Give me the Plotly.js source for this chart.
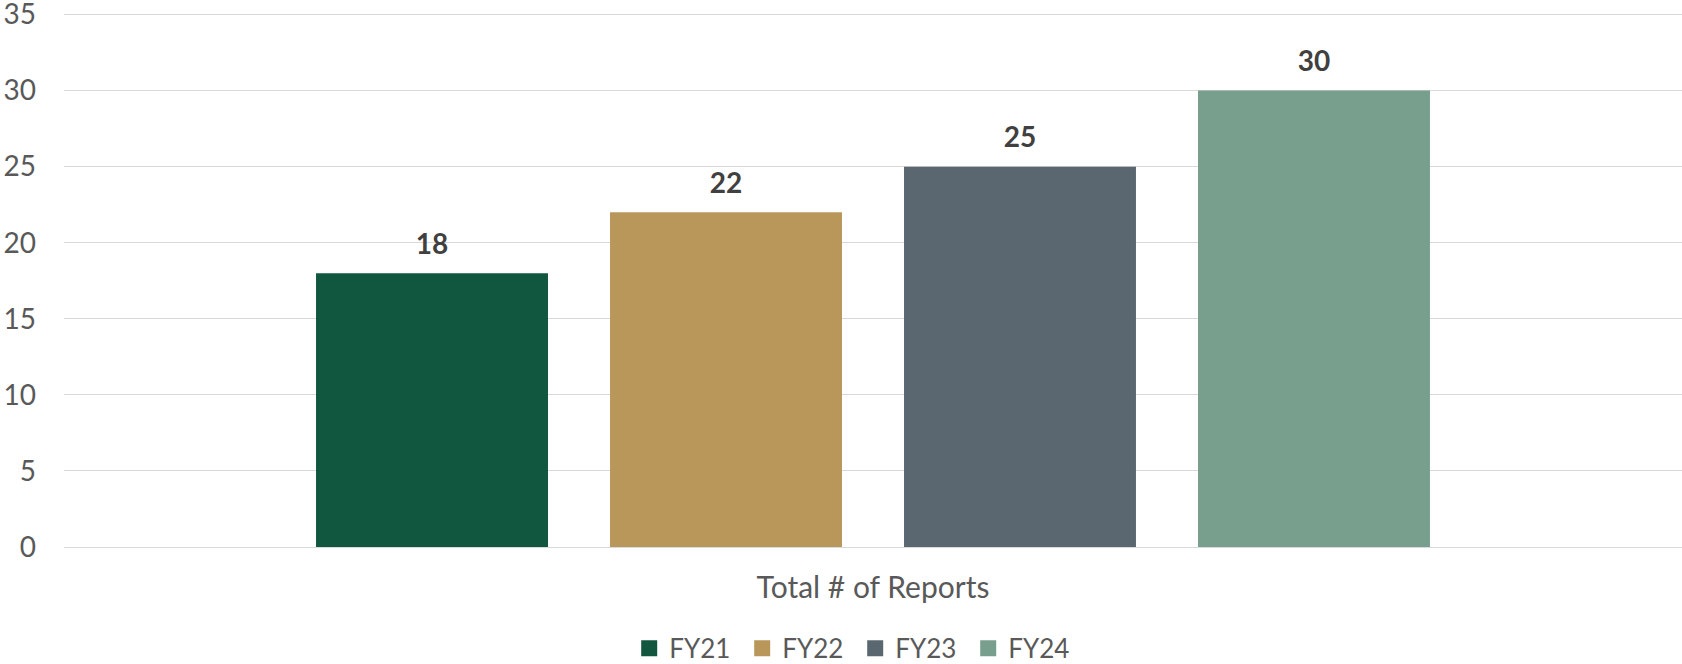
<!DOCTYPE html>
<html>
<head>
<meta charset="utf-8">
<script src="https://cdn.plot.ly/plotly-3.0.1.min.js"></script>
<style>html,body{margin:0;padding:0;background:#fff;}</style>
</head>
<body>
<div id="chart" style="width:1682px;height:664px;"></div>
<script>
const category = ["Total # of Reports"];
const seriesNames = ["FY21", "FY22", "FY23", "FY24"];
const seriesValues = [[18], [22], [25], [30]];
const seriesColors = ["#115740", "#B9975B", "#5B6770", "#789F8E"];
const yTicks = [0, 5, 10, 15, 20, 25, 30, 35];

const FONT = "Lato, 'Open Sans', sans-serif";
const traces = [];
seriesNames.forEach((name, i) => {
  traces.push({
    type: "bar",
    name: name,
    x: category,
    y: seriesValues[i],
    marker: {color: seriesColors[i]},
    showlegend: false,
    hoverinfo: "name+y"
  });
});
seriesNames.forEach((name, i) => {
  traces.push({
    type: "scatter",
    mode: "markers+text",
    x: category,
    y: seriesValues[i],
    text: seriesValues[i].map(v => "<b>" + v + "</b>"),
    textposition: "top center",
    textfont: {family: FONT, size: 28, color: "#404040"},
    marker: {size: 18, opacity: 0},
    showlegend: false,
    hoverinfo: "skip",
    cliponaxis: false
  });
});
// legend entries (larger square swatches), kept on a hidden overlay axis
seriesNames.forEach((name, i) => {
  traces.push({
    type: "scatter",
    mode: "markers",
    name: name,
    x: [null],
    y: [null],
    xaxis: "x2",
    yaxis: "y2",
    marker: {symbol: "square", size: 18, color: seriesColors[i]},
    showlegend: true,
    hoverinfo: "skip"
  });
});

const layout = {
  width: 1682, height: 664,
  margin: {l: 64, r: 0, t: 13, b: 117, autoexpand: false},
  paper_bgcolor: "#ffffff", plot_bgcolor: "#ffffff",
  barmode: "group",
  bargap: 0.2732,
  bargroupgap: 0.211,
  scattermode: "group",
  scattergap: 0.2732,
  showlegend: true,
  legend: {
    orientation: "h",
    x: 0.489, xanchor: "center",
    yref: "container",
    y: 0.0235, yanchor: "middle",
    entrywidth: 68,
    font: {family: FONT, size: 26, color: "#595959"},
    bgcolor: "rgba(0,0,0,0)"
  },
  xaxis: {
    type: "category",
    range: [-0.5, 0.5],
    automargin: false,
    showgrid: false, zeroline: false, showline: false,
    ticks: "",
    tickfont: {family: FONT, size: 30, color: "#595959"},
    ticklabelstandoff: 20,
    fixedrange: true
  },
  yaxis: {
    range: [0, 35.1],
    automargin: false,
    tickvals: yTicks,
    ticktext: yTicks.map(String),
    ticklabeloverflow: "allow",
    showgrid: true, gridcolor: "#d9d9d9", gridwidth: 1,
    zeroline: true, zerolinecolor: "#d9d9d9", zerolinewidth: 1,
    showline: false, ticks: "",
    tickfont: {family: FONT, size: 28, color: "#595959"},
    ticklabelstandoff: 27,
    fixedrange: true
  },
  xaxis2: {overlaying: "x", visible: false, range: [0, 1], fixedrange: true},
  yaxis2: {overlaying: "y", visible: false, range: [0, 1], fixedrange: true}
};

Plotly.newPlot("chart", traces, layout, {displayModeBar: false, staticPlot: true});
</script>
</body>
</html>
